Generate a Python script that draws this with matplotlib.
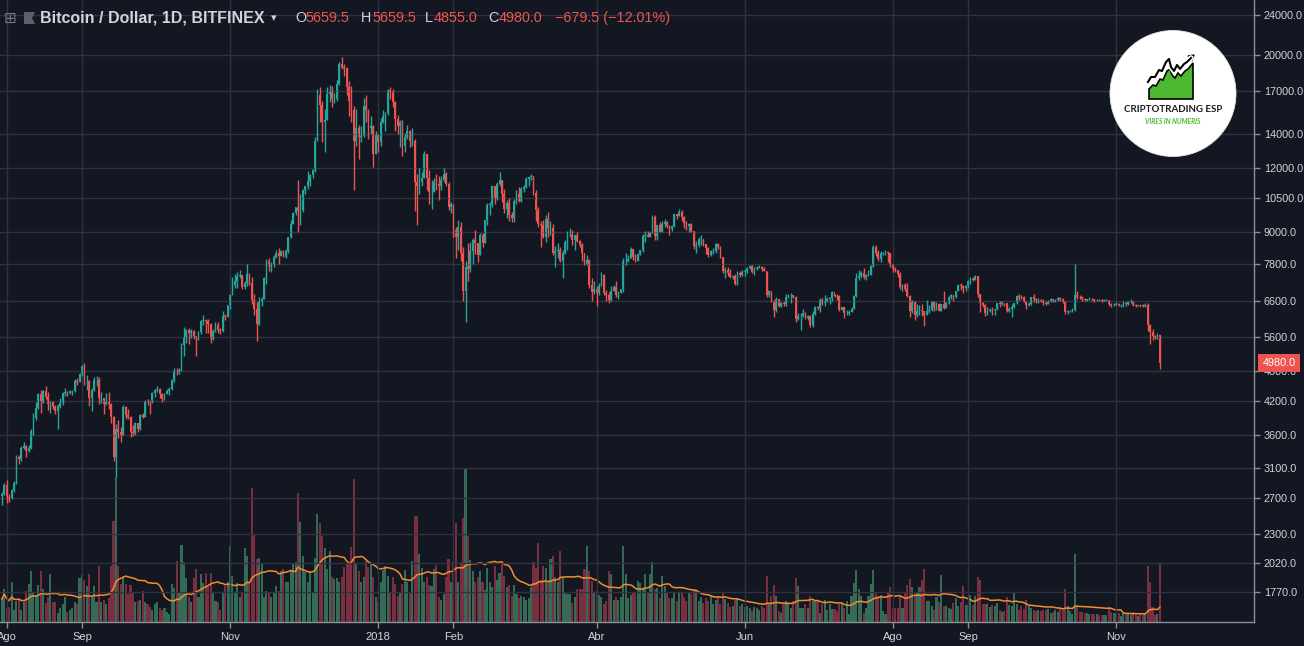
import numpy as np
import pandas as pd
import matplotlib
matplotlib.use('Agg')
import matplotlib.pyplot as plt
import matplotlib.dates as mdates
from matplotlib.patches import Circle, Polygon
from matplotlib.ticker import FixedLocator, FixedFormatter, NullLocator

# daily candles, Bitfinex BTC/USD, one row per week (starts Sunday 2017-07-30)
start_date = '2017-07-30'
first_open = 2730

closes = [
    2760, 2870, 2720, 2700, 2800, 2890, 3250,
    3220, 3390, 3420, 3340, 3390, 3660, 3880,
    4070, 4330, 4180, 4380, 4280, 4140, 4180,
    4080, 4000, 4100, 4150, 4340, 4370, 4350,
    4380, 4390, 4590, 4580, 4740, 4920, 4600,
    4600, 4250, 4400, 4620, 4620, 4250, 4260,
    4140, 4170, 4140, 3900, 3250, 3690, 3650,
    3600, 4080, 3930, 3900, 3640, 3630, 3800,
    3690, 3930, 3900, 4200, 4180, 4170, 4340,
    4410, 4420, 4320, 4240, 4330, 4380, 4430,
    4620, 4790, 4780, 4830, 5400, 5610, 5780,
    5700, 5750, 5620, 5600, 5730, 6020, 6040,
    6020, 5940, 5540, 5760, 5910, 5790, 5760,
    6160, 6140, 6470, 6770, 7080, 7200, 7390,
    7410, 7020, 7150, 7460, 7140, 6620, 6360,
    5950, 6560, 6640, 7320, 7880, 7710, 7790,
    8040, 8200, 8070, 8250, 8040, 8250, 8790,
    9330, 9820, 10060, 9890, 9950, 10900, 11070,
    11320, 11660, 11900, 13600, 16700, 16000, 14800,
    14900, 16800, 17000, 16400, 16450, 17600, 19200,
    19000, 18900, 17300, 16300, 15600, 13600, 14400,
    13800, 13900, 15900, 15600, 14400, 14500, 12800,
    14000, 13500, 14800, 15200, 15400, 17100, 17000,
    16200, 15000, 14500, 14800, 13300, 13800, 14200,
    13600, 13600, 11300, 11100, 11300, 11500, 12800,
    11500, 10800, 10800, 11300, 11200, 11100, 11400,
    11700, 11200, 10100, 10200, 9100, 8800, 9200,
    8200, 6900, 7700, 7600, 8250, 8700, 8550,
    8100, 8900, 8550, 9500, 10150, 10200, 11100,
    10450, 11200, 11400, 10700, 10000, 10250, 9700,
    9600, 10350, 10700, 10350, 10950, 11050, 11450,
    11520, 11580, 10750, 9950, 9350, 9300, 8800,
    9550, 9150, 9150, 8200, 8250, 8300, 7900,
    8200, 8600, 8900, 8900, 8700, 8880, 8650,
    8480, 8180, 7800, 7940, 7100, 6850, 6950,
    6820, 7050, 7420, 6820, 6780, 6620, 6900,
    7020, 6760, 6830, 6960, 7880, 7900, 7980,
    8330, 8050, 7900, 8160, 8280, 8850, 8900,
    8800, 8950, 9650, 8850, 9280, 9000, 9350,
    9420, 9240, 9120, 9230, 9750, 9690, 9860,
    9650, 9380, 9230, 9330, 9040, 8450, 8500,
    8720, 8720, 8510, 8370, 8100, 8250, 8250,
    8520, 8420, 8040, 7560, 7590, 7480, 7360,
    7370, 7130, 7470, 7400, 7500, 7540, 7640,
    7720, 7500, 7630, 7660, 7690, 7630, 7540,
    6780, 6900, 6570, 6340, 6650, 6450, 6530,
    6500, 6720, 6760, 6770, 6720, 6080, 6150,
    6170, 6250, 6100, 6150, 5900, 6220, 6400,
    6380, 6620, 6520, 6600, 6640, 6670, 6860,
    6750, 6740, 6330, 6400, 6230, 6240, 6280,
    6360, 6740, 7320, 7370, 7470, 7360, 7420,
    7420, 7720, 8430, 8180, 7950, 8170, 8200,
    8220, 8180, 7780, 7620, 7570, 7430, 7030,
    7070, 6950, 6750, 6300, 6570, 6180, 6300,
    6320, 6300, 6200, 6310, 6340, 6590, 6420,
    6510, 6310, 6490, 6380, 6540, 6720, 6770,
    6710, 6890, 7100, 7050, 6980, 7040, 7200,
    7280, 7260, 7370, 6790, 6530, 6470, 6230,
    6300, 6330, 6320, 6350, 6520, 6510, 6540,
    6520, 6290, 6370, 6400, 6520, 6740, 6720,
    6710, 6600, 6460, 6500, 6700, 6660, 6610,
    6630, 6600, 6540, 6510, 6600, 6640, 6610,
    6630, 6680, 6650, 6600, 6260, 6300, 6300,
    6340, 6760, 6720, 6710, 6640, 6620, 6640,
    6650, 6640, 6620, 6630, 6610, 6600, 6610,
    6610, 6490, 6470, 6480, 6500, 6470, 6470,
    6540, 6490, 6550, 6560, 6480, 6440, 6470,
    6460, 6450, 6480, 5900, 5740, 5620, 5600,
    5659.5, 4980.0,
]

highs = [
    2780, 2900, 2930, 2760, 2820, 2920, 3290,
    3290, 3420, 3480, 3440, 3440, 3690, 3970,
    4180, 4340, 4400, 4400, 4480, 4370, 4200,
    4200, 4110, 4130, 4250, 4360, 4440, 4380,
    4410, 4400, 4630, 4660, 4750, 4930, 4980,
    4720, 4610, 4450, 4680, 4690, 4670, 4360,
    4260, 4350, 4360, 4160, 3920, 3780, 3850,
    3730, 4120, 4100, 4050, 3920, 3760, 3810,
    3800, 3950, 3980, 4220, 4240, 4200, 4360,
    4430, 4480, 4440, 4350, 4350, 4430, 4460,
    4630, 4860, 4870, 4860, 5450, 5850, 5800,
    5830, 5800, 5770, 5610, 5760, 6050, 6200,
    6080, 6080, 5960, 5800, 5980, 6000, 5820,
    6300, 6220, 6480, 6800, 7350, 7450, 7500,
    7590, 7420, 7200, 7800, 7470, 7360, 6800,
    6550, 6700, 6700, 7330, 7950, 8000, 7850,
    8100, 8300, 8370, 8300, 8290, 8340, 8800,
    9500, 9850, 10100, 11400, 10700, 10950, 11100,
    11850, 11700, 11950, 13850, 17200, 17300, 16300,
    15700, 17300, 17500, 17400, 16900, 17900, 19400,
    19891, 19200, 19000, 17800, 17400, 15900, 15700,
    14600, 14500, 16500, 16700, 15700, 15200, 14600,
    14200, 14000, 15100, 15600, 15500, 17200, 17300,
    17200, 16300, 15300, 14900, 14900, 14100, 14600,
    14300, 14400, 13700, 11700, 12000, 11800, 13000,
    12800, 11900, 11400, 11500, 11700, 11600, 11600,
    12000, 11800, 11300, 10300, 10200, 9200, 9500,
    9400, 8400, 7900, 8550, 8600, 8750, 9100,
    8560, 8950, 8950, 9500, 10250, 10300, 11150,
    11100, 11280, 11780, 11400, 10950, 10400, 10500,
    9850, 10450, 10880, 11050, 11050, 11150, 11550,
    11550, 11700, 11600, 10900, 10100, 9450, 9500,
    9700, 9850, 9450, 9350, 8450, 8580, 8400,
    8300, 8700, 9050, 9150, 9100, 8900, 9000,
    8700, 8550, 8200, 8100, 7950, 7300, 7200,
    7050, 7150, 7500, 7450, 6920, 6850, 7050,
    7100, 7200, 6890, 6970, 8000, 8200, 8120,
    8400, 8340, 8150, 8200, 8300, 8930, 9040,
    9050, 9010, 9740, 9700, 9300, 9400, 9440,
    9530, 9440, 9280, 9270, 9750, 9780, 9990,
    9940, 9660, 9460, 9360, 9370, 9050, 8640,
    8790, 8880, 8740, 8510, 8400, 8280, 8380,
    8570, 8580, 8460, 8050, 7700, 7670, 7600,
    7420, 7450, 7540, 7540, 7580, 7620, 7680,
    7760, 7760, 7680, 7720, 7760, 7710, 7680,
    7550, 6920, 6900, 6610, 6700, 6650, 6550,
    6580, 6790, 6800, 6820, 6780, 6750, 6240,
    6240, 6350, 6280, 6200, 6180, 6300, 6450,
    6440, 6680, 6690, 6770, 6700, 6700, 6880,
    6800, 6800, 6760, 6420, 6400, 6340, 6320,
    6400, 6760, 7480, 7570, 7560, 7650, 7450,
    7570, 7750, 8500, 8490, 8300, 8260, 8220,
    8290, 8260, 8200, 7780, 7670, 7580, 7500,
    7120, 7160, 7150, 6780, 6620, 6580, 6500,
    6470, 6500, 6260, 6630, 6460, 6600, 6600,
    6560, 6530, 6500, 6890, 6560, 6750, 6800,
    6780, 6900, 7130, 7140, 7080, 7080, 7250,
    7340, 7330, 7400, 7380, 6800, 6550, 6500,
    6400, 6380, 6400, 6370, 6540, 6600, 6580,
    6540, 6530, 6400, 6500, 6540, 6780, 6800,
    6760, 6730, 6600, 6560, 6720, 6800, 6670,
    6680, 6650, 6640, 6580, 6620, 6680, 6660,
    6650, 6710, 6700, 6670, 6600, 6330, 6330,
    6380, 7790, 6900, 6760, 6740, 6680, 6660,
    6700, 6690, 6660, 6660, 6650, 6640, 6640,
    6640, 6620, 6520, 6520, 6560, 6520, 6500,
    6580, 6560, 6590, 6640, 6580, 6500, 6480,
    6500, 6500, 6520, 6520, 5950, 5800, 5650,
    5700, 5659.5,
]

lows = [
    2620, 2740, 2650, 2660, 2690, 2780, 2880,
    3150, 3200, 3370, 3250, 3330, 3380, 3600,
    3850, 4050, 3980, 4150, 4240, 4020, 3980,
    4050, 3950, 3690, 4060, 4120, 4290, 4290,
    4330, 4310, 4360, 4500, 4560, 4700, 4500,
    4400, 4100, 4000, 4380, 4480, 4130, 4150,
    3950, 4120, 4050, 3800, 3200, 2970, 3550,
    3480, 3600, 3860, 3860, 3560, 3580, 3600,
    3650, 3680, 3880, 3900, 4120, 3960, 4160,
    4280, 4360, 4250, 4170, 4210, 4320, 4300,
    4410, 4560, 4710, 4740, 4810, 5150, 5460,
    5420, 5570, 5550, 5130, 5520, 5680, 5900,
    5710, 5700, 5450, 5520, 5720, 5700, 5680,
    5740, 6050, 6120, 6370, 6780, 6990, 7000,
    7300, 6970, 6970, 7060, 7080, 6500, 6200,
    5500, 5910, 6440, 6640, 7110, 7550, 7500,
    7690, 7990, 7800, 8080, 8040, 8000, 8200,
    8750, 9330, 9720, 9000, 9300, 9850, 10700,
    10950, 11100, 11500, 11800, 13600, 14800, 13500,
    12900, 14900, 16200, 15800, 16100, 16300, 17500,
    18800, 18200, 16700, 15200, 14800, 10900, 13300,
    12500, 13500, 13800, 14800, 13700, 14000, 12100,
    12800, 12900, 13300, 14700, 14200, 15300, 16400,
    15800, 14200, 14000, 13200, 12700, 12900, 13700,
    13200, 13300, 9900, 9300, 10700, 11100, 11500,
    10900, 10200, 10000, 10800, 10900, 10400, 10900,
    11300, 11100, 9950, 9800, 8800, 8000, 8300,
    7900, 6600, 6000, 7200, 7500, 7800, 8150,
    7850, 8100, 8400, 8550, 9300, 9700, 10100,
    10200, 10400, 11100, 10300, 9800, 9600, 9450,
    9400, 9400, 10200, 10300, 10300, 10800, 11000,
    11100, 11400, 10650, 9450, 9200, 8400, 8750,
    8600, 8800, 8900, 8100, 7700, 8000, 7850,
    7300, 8150, 8300, 8800, 8500, 8300, 8600,
    8400, 7900, 7760, 7750, 7000, 6600, 6800,
    6430, 6770, 7040, 6760, 6600, 6520, 6600,
    6900, 6700, 6650, 6820, 6850, 7750, 7850,
    7990, 7920, 7850, 7900, 8100, 8240, 8600,
    8800, 8810, 8950, 8700, 8700, 8990, 9000,
    9210, 9150, 8900, 9050, 9200, 9550, 9680,
    9440, 9150, 9080, 9000, 8990, 8350, 8200,
    8400, 8480, 8450, 8140, 8050, 8060, 8150,
    8180, 8350, 8010, 7480, 7300, 7370, 7300,
    7280, 7080, 7080, 7350, 7380, 7370, 7480,
    7610, 7470, 7400, 7570, 7660, 7540, 7530,
    6700, 6700, 6550, 6120, 6280, 6400, 6420,
    6450, 6450, 6680, 6540, 6680, 6000, 6050,
    5780, 6120, 6080, 6050, 5850, 5850, 6200,
    6320, 6280, 6460, 6450, 6560, 6500, 6600,
    6700, 6630, 6300, 6320, 6100, 6190, 6200,
    6270, 6350, 6700, 7250, 7300, 7290, 7250,
    7380, 7400, 7700, 8080, 7880, 7850, 8120,
    8100, 7870, 7680, 7500, 7500, 7350, 6960,
    6900, 6880, 6700, 6140, 6250, 6040, 6120,
    6200, 6150, 5880, 6200, 6240, 6300, 6300,
    6330, 6300, 6310, 6350, 6380, 6500, 6650,
    6600, 6690, 6880, 6930, 6830, 6900, 7000,
    7130, 7200, 7230, 6700, 6280, 6400, 6150,
    6180, 6270, 6180, 6200, 6340, 6400, 6480,
    6450, 6260, 6260, 6120, 6380, 6490, 6630,
    6660, 6570, 6370, 6430, 6470, 6560, 6520,
    6540, 6560, 6480, 6460, 6500, 6550, 6560,
    6560, 6600, 6600, 6540, 6220, 6220, 6260,
    6280, 6300, 6650, 6660, 6580, 6580, 6600,
    6620, 6600, 6560, 6580, 6580, 6570, 6580,
    6580, 6430, 6420, 6440, 6470, 6440, 6420,
    6420, 6450, 6460, 6530, 6440, 6400, 6430,
    6420, 6400, 6420, 5750, 5430, 5520, 5540,
    5560, 4855.0,
]

# volume, scaled units (bar heights)
volumes = [
    23, 33, 14, 15, 40, 12, 21,
    24, 12, 20, 31, 38, 51, 30,
    26, 37, 51, 33, 19, 25, 48,
    20, 20, 9, 14, 18, 25, 10,
    12, 14, 20, 18, 44, 47, 42,
    36, 48, 26, 36, 20, 56, 20,
    22, 18, 24, 56, 101, 145, 56,
    38, 45, 38, 28, 37, 30, 20,
    21, 22, 31, 20, 18, 15, 12,
    18, 20, 14, 12, 14, 10, 8,
    38, 34, 61, 30, 77, 60, 44,
    25, 20, 44, 53, 25, 48, 39,
    49, 35, 49, 30, 21, 20, 12,
    29, 36, 40, 76, 46, 30, 39,
    25, 30, 74, 66, 40, 134, 88,
    63, 64, 59, 25, 31, 29, 25,
    30, 36, 31, 51, 53, 40, 40,
    52, 58, 60, 129, 100, 66, 50,
    40, 51, 30, 64, 108, 99, 86,
    74, 53, 71, 45, 43, 44, 40,
    45, 55, 58, 60, 75, 143, 58,
    51, 40, 45, 61, 55, 59, 45,
    25, 20, 40, 52, 56, 46, 30,
    45, 38, 26, 29, 38, 52, 40,
    30, 61, 106, 106, 68, 54, 40,
    45, 37, 36, 53, 57, 25, 22,
    28, 45, 63, 40, 60, 99, 40,
    60, 104, 154, 86, 62, 51, 40,
    45, 51, 40, 32, 54, 40, 35,
    56, 42, 49, 61, 46, 35, 37,
    26, 37, 28, 24, 26, 25, 22,
    24, 35, 60, 54, 79, 42, 56,
    54, 40, 63, 66, 45, 40, 71,
    44, 30, 28, 28, 19, 25, 33,
    33, 33, 53, 76, 51, 41, 29,
    31, 27, 25, 18, 21, 51, 48,
    22, 25, 22, 25, 76, 48, 24,
    27, 30, 29, 41, 39, 33, 48,
    30, 48, 60, 33, 34, 24, 46,
    36, 29, 24, 24, 29, 21, 30,
    29, 25, 21, 29, 28, 33, 31,
    21, 25, 19, 24, 21, 26, 18,
    22, 26, 18, 30, 23, 19, 15,
    16, 22, 24, 16, 18, 15, 16,
    14, 11, 15, 14, 12, 16, 14,
    46, 18, 26, 37, 26, 11, 9,
    18, 21, 18, 14, 21, 44, 36,
    14, 14, 18, 14, 26, 21, 21,
    21, 9, 18, 22, 12, 18, 13,
    13, 11, 18, 19, 14, 21, 8,
    26, 39, 52, 33, 26, 9, 14,
    26, 38, 52, 30, 26, 27, 11,
    8, 30, 35, 14, 14, 14, 26,
    14, 29, 37, 43, 35, 27, 30,
    35, 42, 53, 21, 21, 16, 12,
    25, 20, 47, 16, 16, 14, 13,
    19, 24, 16, 20, 36, 17, 17,
    27, 17, 26, 45, 42, 18, 18,
    18, 15, 17, 16, 19, 12, 10,
    11, 25, 17, 16, 29, 18, 12,
    16, 13, 22, 16, 14, 12, 11,
    12, 11, 12, 12, 13, 9, 10,
    12, 10, 14, 12, 33, 16, 11,
    8, 68, 15, 10, 10, 9, 9,
    8, 8, 8, 8, 7, 7, 7,
    7, 15, 10, 9, 9, 9, 6,
    9, 8, 8, 7, 10, 7, 6,
    7, 7, 9, 56, 40, 15, 7,
    8, 59,
]

price_ticks = [1770, 2020, 2300, 2700, 3100, 3600, 4200, 4800, 5600, 6600,
               7800, 9000, 10500, 12000, 14000, 17000, 20000, 24000]
date_ticks = ['2017-08-01', '2017-09-01', '2017-11-01', '2018-01-01', '2018-02-01',
              '2018-04-01', '2018-06-01', '2018-08-01', '2018-09-01', '2018-11-01']
date_labels = ['Ago', 'Sep', 'Nov', '2018', 'Feb', 'Abr', 'Jun', 'Ago', 'Sep', 'Nov']

assert len(closes) == len(highs) == len(lows) == len(volumes)

W, H = 1304, 646
BG = '#131722'
GRID = '#2f3340'
AXIS = '#8c8f99'
TEXT = '#d1d4dc'
UP = '#26a69a'
DOWN = '#ef5350'
VOL_UP = '#336b57'
VOL_DOWN = '#7a2f40'
FONT = ['Liberation Sans', 'DejaVu Sans']


def px(x, y):
    # pixel coords (top-left origin) -> figure fraction
    return x / W, 1 - y / H


closes = np.array(closes, dtype=float)
highs = np.array(highs, dtype=float)
lows = np.array(lows, dtype=float)
volumes = np.array(volumes, dtype=float)
opens = np.r_[first_open, closes[:-1]]
up = closes >= opens

dates = pd.date_range(start_date, periods=len(closes), freq='D')
x = mdates.date2num(dates.to_pydatetime())
vol_ma = pd.Series(volumes).rolling(20, min_periods=1).mean()

fig = plt.figure(figsize=(W / 100, H / 100), dpi=100, facecolor=BG)
rect = [0, 24 / H, 1254 / W, 622 / H]
ax_vol = fig.add_axes(rect)
ax = fig.add_axes(rect, sharex=ax_vol)
ax_vol.set_facecolor(BG)
ax.patch.set_alpha(0)

# volume panel
ax_vol.bar(x, volumes, width=0.85, color=np.where(up, VOL_UP, VOL_DOWN), linewidth=0)
ax_vol.plot(x, vol_ma, color='#f68c2f', lw=1.1)
ax_vol.set_ylim(0, 622)
ax_vol.axis('off')

# candles
colors = np.where(up, UP, DOWN)
ax.vlines(x, lows, highs, colors=colors, lw=1.0)
ax.bar(x, np.abs(closes - opens), bottom=np.minimum(opens, closes), width=0.72,
       color=colors, linewidth=0)

ax.set_yscale('log')
ax.set_ylim(1545, 25680)
x0 = mdates.date2num(pd.Timestamp('2017-08-01'))
ax.set_xlim(x0 - 2.76, x0 + 513.8)

ax.yaxis.tick_right()
ax.yaxis.set_major_locator(FixedLocator(price_ticks))
ax.yaxis.set_major_formatter(FixedFormatter(['%.1f' % p for p in price_ticks]))
ax.yaxis.set_minor_locator(NullLocator())
ax.xaxis.set_major_locator(FixedLocator(mdates.date2num(pd.to_datetime(date_ticks).to_pydatetime())))
ax.xaxis.set_major_formatter(FixedFormatter(date_labels))
ax.xaxis.set_minor_locator(NullLocator())

ax.grid(True, color=GRID, lw=1)
for side in ['top', 'left']:
    ax.spines[side].set_visible(False)
for side in ['right', 'bottom']:
    ax.spines[side].set_color(AXIS)
    ax.spines[side].set_linewidth(1)
ax.tick_params(axis='both', colors=AXIS, labelcolor=TEXT, length=4, width=1,
               direction='out', pad=3)
for lab in ax.get_yticklabels() + ax.get_xticklabels():
    lab.set_family(FONT)
    lab.set_fontsize(7.8)
for lab in ax.get_xticklabels():
    lab.set_fontsize(8)

# last price label on the scale
ax.annotate('%.1f' % closes[-1], xy=(1, closes[-1]), xycoords=('axes fraction', 'data'),
            xytext=(6, 0), textcoords='offset points', va='center', ha='left',
            color='white', fontsize=7.8, family=FONT, annotation_clip=False,
            bbox=dict(boxstyle='square,pad=0.4', fc=DOWN, ec='none'))

# legend line at the top
fig.text(*px(4, 18), '\u229e', color='#787b86', fontsize=11, va='center', ha='left',
         family='DejaVu Sans')
fig.patches.append(Polygon([px(24, 12), px(35, 12), px(32, 18), px(35, 24), px(24, 24)],
                           closed=True, fc='#5d606b', ec='none', transform=fig.transFigure))
fig.text(*px(40, 18), 'Bitcoin / Dollar, 1D, BITFINEX', color=TEXT, fontsize=11.5,
         fontweight='bold', va='center', ha='left', family=FONT)
fig.text(*px(271, 18), '\u25be', color=TEXT, fontsize=8, va='center', ha='left',
         family=['DejaVu Sans'])

change = closes[-1] - closes[-2]
pct = change / closes[-2] * 100
legend_items = [
    (295, 'O', TEXT), (305, '%.1f' % opens[-1], DOWN),
    (361, 'H', TEXT), (372, '%.1f' % highs[-1], DOWN),
    (425, 'L', TEXT), (434, '%.1f' % lows[-1], DOWN),
    (488, 'C', TEXT), (499, '%.1f' % closes[-1], DOWN),
    (555, '\u2212%.1f (\u2212%.2f%%)' % (abs(change), abs(pct)), DOWN),
]
for xpos, txt, col in legend_items:
    fig.text(*px(xpos, 18), txt, color=col, fontsize=10.4, va='center', ha='left',
             family=FONT)

# logo
lax = fig.add_axes([1108 / W, (H - 29 - 130) / H, 130 / W, 130 / H])
lax.set_xlim(0, 130)
lax.set_ylim(130, 0)
lax.axis('off')
lax.add_patch(Circle((65, 64.5), 63, fc='white', ec='#e6e6e6', lw=0.6))
mountain = [(41, 70), (41, 60), (45, 56), (48, 57), (52, 50), (55, 51), (59, 42), (62, 40),
            (64, 46), (67, 49), (70, 44), (73, 47), (77, 42), (80, 40), (85, 34), (85, 70)]
lax.add_patch(Polygon(mountain, closed=True, fc='#4cb82f', ec='black', lw=1.2))
zig = np.array([(40, 53), (43, 48), (47, 48), (51, 41), (54, 42), (58, 33), (61, 30),
                (63, 38), (66, 42), (69, 36), (72, 40), (76, 35), (79, 33), (83, 29)])
lax.plot(zig[:, 0], zig[:, 1], color='white', lw=4, solid_capstyle='round')
lax.plot(zig[:, 0], zig[:, 1], color='black', lw=1.5)
lax.add_patch(Polygon([(86, 26), (80, 27), (84, 32)], closed=True, fc='black', ec='black'))
lax.text(65, 80, 'CRIPTOTRADING ESP', ha='center', va='center', fontsize=7.0,
         fontweight='bold', color='#1c1c1c', family=['Lato', 'DejaVu Sans'])
lax.text(65, 92, 'VIRES IN NUMERIS', ha='center', va='center', fontsize=4.9,
         fontweight='bold', style='italic', color='#4cb82f', family=['Lato', 'DejaVu Sans'])

fig.savefig('out.png', dpi=100, facecolor=BG)
